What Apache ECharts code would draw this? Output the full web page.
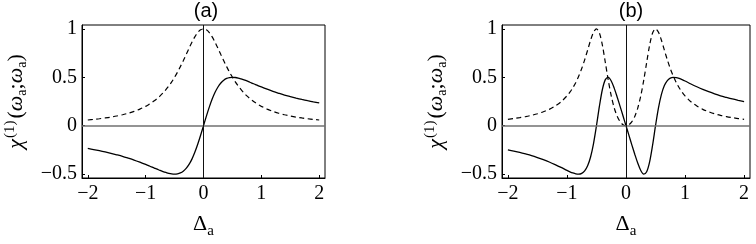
<!DOCTYPE html>
<html>
<head>
<meta charset="utf-8">
<script src="https://cdn.jsdelivr.net/npm/echarts@6/dist/echarts.min.js"></script>
<style>
html,body{margin:0;padding:0;background:#fff;}
#chart{width:756px;height:244px;}
</style>
</head>
<body>
<div id="chart"></div>
<script>
// Detuning values (x)
var deltaA = [-2,-1.9,-1.8,-1.7,-1.6,-1.5,-1.4,-1.3,-1.2,-1.1,-1,-0.95,-0.9,-0.85,-0.8,-0.75,-0.7,-0.65,-0.6,-0.55,-0.5,-0.45,-0.4,-0.35,-0.3,-0.25,-0.2,-0.15,-0.1,-0.05,0,0.05,0.1,0.15,0.2,0.25,0.3,0.35,0.4,0.45,0.5,0.55,0.6,0.65,0.7,0.75,0.8,0.85,0.9,0.95,1,1.1,1.2,1.3,1.4,1.5,1.6,1.7,1.8,1.9,2];
// Panel (a)
var aDashed = [0.059,0.065,0.072,0.080,0.089,0.1,0.113,0.129,0.148,0.171,0.2,0.217,0.236,0.257,0.281,0.308,0.338,0.372,0.410,0.452,0.5,0.552,0.610,0.671,0.735,0.8,0.862,0.917,0.962,0.990,1,0.990,0.962,0.917,0.862,0.8,0.735,0.671,0.610,0.552,0.5,0.452,0.410,0.372,0.338,0.308,0.281,0.257,0.236,0.217,0.2,0.171,0.148,0.129,0.113,0.1,0.089,0.080,0.072,0.065,0.059];
var aSolid = [-0.235,-0.246,-0.258,-0.271,-0.285,-0.3,-0.316,-0.335,-0.355,-0.377,-0.4,-0.412,-0.425,-0.437,-0.449,-0.462,-0.473,-0.483,-0.492,-0.498,-0.5,-0.497,-0.488,-0.470,-0.441,-0.4,-0.345,-0.275,-0.192,-0.099,0,0.099,0.192,0.275,0.345,0.4,0.441,0.470,0.488,0.497,0.5,0.498,0.492,0.483,0.473,0.462,0.449,0.437,0.425,0.412,0.4,0.377,0.355,0.335,0.316,0.3,0.285,0.271,0.258,0.246,0.235];
// Panel (b)
var bDashed = [0.066,0.074,0.083,0.094,0.107,0.123,0.144,0.169,0.203,0.247,0.308,0.346,0.392,0.447,0.513,0.590,0.680,0.780,0.882,0.965,1,0.957,0.832,0.653,0.468,0.308,0.185,0.098,0.042,0.010,0,0.010,0.042,0.098,0.185,0.308,0.468,0.653,0.832,0.957,1,0.965,0.882,0.780,0.680,0.590,0.513,0.447,0.392,0.346,0.308,0.247,0.203,0.169,0.144,0.123,0.107,0.094,0.083,0.074,0.066];
var bSolid = [-0.249,-0.262,-0.276,-0.292,-0.309,-0.329,-0.351,-0.375,-0.402,-0.431,-0.462,-0.476,-0.488,-0.497,-0.5,-0.492,-0.466,-0.414,-0.323,-0.184,0,0.202,0.374,0.476,0.499,0.462,0.388,0.297,0.2,0.1,0,-0.1,-0.2,-0.297,-0.388,-0.462,-0.499,-0.476,-0.374,-0.202,0,0.184,0.323,0.414,0.466,0.492,0.5,0.497,0.488,0.476,0.462,0.431,0.402,0.375,0.351,0.329,0.309,0.292,0.276,0.262,0.249];
// Tick labels
var xTicks = [-2,-1,0,1,2];
var yTicks = [-0.5,0,0.5,1];
var panelTitles = ['(a)','(b)'];

function pairs(xs, ys){ return xs.map(function(x,i){ return [x, ys[i]]; }); }
function fmt(v){ return String(v).replace('-', '\u2212'); }

var serif = 'Liberation Serif';
var grids = [
  {left:77, top:25, width:248, height:154},
  {left:502, top:25, width:248, height:154}
];

var option = {
  animation:false,
  backgroundColor:'#fff',
  title: panelTitles.map(function(t,i){
    return {text:t, left: grids[i].left + grids[i].width/2, top:0, padding:[1,5,1,5], textAlign:'center',
      textStyle:{fontFamily:'Liberation Sans', fontWeight:'normal', fontSize:20, color:'#000'}};
  }),
  grid: grids.map(function(g){
    return {left:g.left, top:g.top, width:g.width, height:g.height, show:true, borderColor:'#000', borderWidth:1, backgroundColor:'transparent'};
  }),
  xAxis: grids.map(function(g,i){
    return {type:'value', gridIndex:i, min:-2.1, max:2.1,
      name:'{d|\u0394}{s|a}', nameLocation:'middle', nameGap:31,
      nameTextStyle:{fontFamily:serif, fontSize:21, color:'#000',
        rich:{d:{fontFamily:serif, fontSize:22, color:'#000', lineHeight:26, verticalAlign:'bottom'},
              s:{fontFamily:serif, fontSize:15, color:'#000', lineHeight:26, verticalAlign:'bottom', padding:[0,0,-4,0]}}},
      axisLine:{show:true, onZero:false, lineStyle:{color:'#000', width:1}},
      axisTick:{show:true, inside:true, length:3, customValues:xTicks, lineStyle:{color:'#000'}},
      axisLabel:{customValues:xTicks, formatter:fmt, fontFamily:serif, fontSize:20, color:'#000', margin:6},
      splitLine:{show:false}};
  }),
  yAxis: grids.map(function(g,i){
    return {type:'value', gridIndex:i, min:-0.54, max:1.04,
      name:'{c|\u03c7}{p|(1)}{r|(}{c|\u03c9}{s|a}{r|;}{c|\u03c9}{s|a}{r|)}', nameLocation:'middle', nameGap:51, nameRotate:90,
      nameTextStyle:{fontFamily:serif, fontSize:22, color:'#000', rich:{
        c:{fontFamily:serif, fontStyle:'italic', fontSize:22, color:'#000', lineHeight:30, verticalAlign:'middle'},
        r:{fontFamily:serif, fontSize:22, color:'#000', lineHeight:30, verticalAlign:'middle'},
        p:{fontFamily:serif, fontSize:15, color:'#000', lineHeight:30, verticalAlign:'top', padding:[2,2,0,1]},
        s:{fontFamily:serif, fontSize:14, color:'#000', lineHeight:30, verticalAlign:'bottom', padding:[0,0,2,0]}}},
      axisLine:{show:true, onZero:false, lineStyle:{color:'#000', width:1}},
      axisTick:{show:true, inside:true, length:3, customValues:yTicks, lineStyle:{color:'#000'}},
      axisLabel:{customValues:yTicks, formatter:fmt, fontFamily:serif, fontSize:20, color:'#000', margin:5},
      splitLine:{show:false}};
  }),
  series: [
    {type:'line', xAxisIndex:0, yAxisIndex:0, data:pairs(deltaA, aDashed), showSymbol:false, smooth:0.3,
      lineStyle:{color:'#000', width:1.2, type:[5,3.5]},
      markLine:{silent:true, symbol:'none', label:{show:false},
        data:[{yAxis:0, lineStyle:{color:'#707070', width:1.5, type:'solid'}},
              {xAxis:0, lineStyle:{color:'#111', width:1, type:'solid'}}]}},
    {type:'line', xAxisIndex:0, yAxisIndex:0, data:pairs(deltaA, aSolid), showSymbol:false, smooth:0.3,
      lineStyle:{color:'#000', width:1.3}},
    {type:'line', xAxisIndex:1, yAxisIndex:1, data:pairs(deltaA, bDashed), showSymbol:false, smooth:0.3,
      lineStyle:{color:'#000', width:1.2, type:[5,3.5]},
      markLine:{silent:true, symbol:'none', label:{show:false},
        data:[{yAxis:0, lineStyle:{color:'#707070', width:1.5, type:'solid'}},
              {xAxis:0, lineStyle:{color:'#111', width:1, type:'solid'}}]}},
    {type:'line', xAxisIndex:1, yAxisIndex:1, data:pairs(deltaA, bSolid), showSymbol:false, smooth:0.3,
      lineStyle:{color:'#000', width:1.3}}
  ]
};
var chart = echarts.init(document.getElementById('chart'), null, {renderer:'canvas'});
chart.setOption(option);
</script>
</body>
</html>
